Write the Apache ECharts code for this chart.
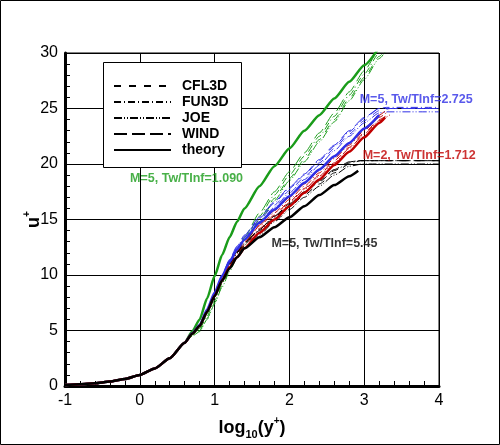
<!DOCTYPE html>
<html>
<head>
<meta charset="utf-8">
<script src="https://cdn.jsdelivr.net/npm/echarts@6/dist/echarts.min.js"></script>
<style>
html,body{margin:0;padding:0;background:#fff;}
#c{width:500px;height:445px;}
</style>
</head>
<body>
<div id="c"></div>
<script>
// ---------- data (x = log10(y+), y = u+) ----------
const xTicks = [-1, 0, 1, 2, 3, 4];
const yTicks = [0, 5, 10, 15, 20, 25, 30];
const codeNames = ['CFL3D', 'FUN3D', 'JOE', 'WIND'];

// viscous sublayer shared by all curves
const nearWall = [[-1,0.1],[-0.8,0.16],[-0.6,0.25],[-0.4,0.4],[-0.2,0.63],[0,1.0],[0.2,1.58],[0.4,2.5],[0.6,3.9]];

// M=5, Tw/TInf=1.090 (green)
const g_theory = [[0.7,4.9],[0.8,6.0],[0.9,7.9],[1.0,9.9],[1.1,11.8],[1.2,13.4],[1.3,14.8],[1.4,16.0],[1.6,18.0],[1.8,19.8],[2.0,21.4],[2.2,23.0],[2.4,24.4],[2.6,25.9],[2.8,27.4],[3.0,28.9],[3.2,30.5]];
const g_cfl3d = [[0.7,4.5],[0.8,5.0],[0.9,6.1],[1.0,7.5],[1.1,9.0],[1.2,10.4],[1.3,11.7],[1.4,12.8],[1.6,15.0],[1.8,16.9],[2.0,18.7],[2.2,20.4],[2.4,22.2],[2.6,24.0],[2.8,25.9],[3.0,27.8],[3.2,29.7],[3.4,31.6]];
const g_fun3d = [[0.7,4.6],[0.8,5.1],[0.9,6.3],[1.0,7.7],[1.1,9.2],[1.2,10.7],[1.3,12.0],[1.4,13.1],[1.6,15.3],[1.8,17.2],[2.0,19.0],[2.2,20.7],[2.4,22.5],[2.6,24.3],[2.8,26.2],[3.0,28.1],[3.2,30.0],[3.4,31.9]];
const g_joe   = [[0.7,4.5],[0.8,4.9],[0.9,6.0],[1.0,7.4],[1.1,8.9],[1.2,10.3],[1.3,11.6],[1.4,12.7],[1.6,14.8],[1.8,16.7],[2.0,18.5],[2.2,20.2],[2.4,22.0],[2.6,23.8],[2.8,25.7],[3.0,27.6],[3.2,29.5],[3.4,31.4]];
const g_wind  = [[0.7,4.6],[0.8,5.2],[0.9,6.5],[1.0,8.0],[1.1,9.6],[1.2,11.0],[1.3,12.3],[1.4,13.4],[1.6,15.6],[1.8,17.5],[2.0,19.3],[2.2,21.0],[2.4,22.8],[2.6,24.6],[2.8,26.5],[3.0,28.4],[3.2,30.3],[3.4,32.2]];

// M=5, Tw/TInf=2.725 (blue)
const b_theory = [[0.7,4.75],[0.8,5.5],[0.9,6.9],[1.0,8.4],[1.1,9.9],[1.2,11.2],[1.3,12.3],[1.4,13.2],[1.6,14.7],[1.8,15.9],[2.0,17.1],[2.2,18.3],[2.4,19.5],[2.6,20.7],[2.8,21.9],[3.0,23.2],[3.2,24.4]];
const b_cfl3d = [[0.7,4.7],[0.8,5.4],[0.9,6.7],[1.0,8.2],[1.1,9.8],[1.2,11.2],[1.3,12.4],[1.4,13.4],[1.6,15.0],[1.8,16.3],[2.0,17.6],[2.2,18.8],[2.4,20.1],[2.6,21.4],[2.8,22.7],[3.0,23.9],[3.2,24.8],[3.35,25.0],[4.0,25.0]];
const b_fun3d = [[0.7,4.7],[0.8,5.4],[0.9,6.8],[1.0,8.3],[1.1,9.9],[1.2,11.3],[1.3,12.5],[1.4,13.5],[1.6,15.1],[1.8,16.5],[2.0,17.8],[2.2,19.0],[2.4,20.3],[2.6,21.6],[2.8,22.9],[3.0,24.1],[3.2,25.0],[3.3,25.1],[4.0,25.1]];
const b_joe   = [[0.7,4.7],[0.8,5.4],[0.9,6.7],[1.0,8.1],[1.1,9.6],[1.2,11.0],[1.3,12.2],[1.4,13.2],[1.6,14.8],[1.8,16.1],[2.0,17.4],[2.2,18.6],[2.4,19.9],[2.6,21.2],[2.8,22.5],[3.0,23.7],[3.2,24.6],[3.3,24.7],[4.0,24.7]];
const b_wind  = [[0.7,4.7],[0.8,5.5],[0.9,6.9],[1.0,8.4],[1.1,10.0],[1.2,11.4],[1.3,12.6],[1.4,13.6],[1.6,15.2],[1.8,16.6],[2.0,17.9],[2.2,19.1],[2.4,20.4],[2.6,21.7],[2.8,23.0],[3.0,24.2],[3.2,25.0],[3.3,25.0],[4.0,25.0]];

// M=2, Tw/TInf=1.712 (red)
const r_theory = [[0.7,4.7],[0.8,5.4],[0.9,6.7],[1.0,8.1],[1.1,9.5],[1.2,10.7],[1.3,11.6],[1.4,12.4],[1.6,13.8],[1.8,15.0],[2.0,16.2],[2.2,17.4],[2.4,18.6],[2.6,19.9],[2.8,21.1],[3.0,22.4],[3.2,23.7],[3.28,24.2]];
const r_cfl3d = [[0.7,4.7],[0.8,5.4],[0.9,6.7],[1.0,8.2],[1.1,9.7],[1.2,11.0],[1.3,12.0],[1.4,12.8],[1.6,14.2],[1.8,15.4],[2.0,16.6],[2.2,17.8],[2.4,19.0],[2.6,20.3],[2.8,21.5],[3.0,22.8],[3.2,24.0],[3.35,24.6]];
const r_fun3d = [[0.7,4.7],[0.8,5.4],[0.9,6.7],[1.0,8.2],[1.1,9.7],[1.2,11.1],[1.3,12.1],[1.4,12.9],[1.6,14.4],[1.8,15.6],[2.0,16.8],[2.2,18.0],[2.4,19.2],[2.6,20.5],[2.8,21.7],[3.0,23.0],[3.2,24.2],[3.33,24.8]];
const r_joe   = [[0.7,4.7],[0.8,5.4],[0.9,6.7],[1.0,8.1],[1.1,9.6],[1.2,10.9],[1.3,11.9],[1.4,12.7],[1.6,14.1],[1.8,15.3],[2.0,16.5],[2.2,17.7],[2.4,18.9],[2.6,20.1],[2.8,21.4],[3.0,22.7],[3.2,23.9],[3.36,24.5]];
const r_wind  = [[0.7,4.7],[0.8,5.5],[0.9,6.8],[1.0,8.3],[1.1,9.8],[1.2,11.2],[1.3,12.2],[1.4,13.0],[1.6,14.5],[1.8,15.8],[2.0,17.0],[2.2,18.2],[2.4,19.4],[2.6,20.7],[2.8,21.9],[3.0,23.2],[3.2,24.4],[3.3,24.9]];

// M=5, Tw/TInf=5.45 (black)
const k_theory = [[0.7,4.7],[0.8,5.4],[0.9,6.7],[1.0,8.1],[1.1,9.5],[1.2,10.6],[1.3,11.6],[1.4,12.4],[1.6,13.4],[1.8,14.3],[2.0,15.2],[2.2,16.2],[2.4,17.2],[2.6,18.1],[2.8,18.9],[2.92,19.4]];
const k_cfl3d = [[0.7,4.7],[0.8,5.4],[0.9,6.7],[1.0,8.2],[1.1,9.6],[1.2,10.9],[1.3,11.8],[1.4,12.6],[1.6,13.8],[1.8,15.0],[2.0,16.1],[2.2,17.2],[2.4,18.2],[2.6,19.2],[2.8,20.0],[2.95,20.3],[4.0,20.3]];
const k_fun3d = [[0.7,4.7],[0.8,5.4],[0.9,6.7],[1.0,8.2],[1.1,9.7],[1.2,11.0],[1.3,12.0],[1.4,12.8],[1.6,14.0],[1.8,15.2],[2.0,16.3],[2.2,17.4],[2.4,18.4],[2.6,19.4],[2.8,20.1],[2.95,20.3],[4.0,20.3]];
const k_joe   = [[0.7,4.7],[0.8,5.4],[0.9,6.6],[1.0,8.1],[1.1,9.5],[1.2,10.7],[1.3,11.6],[1.4,12.4],[1.6,13.6],[1.8,14.8],[2.0,15.9],[2.2,17.0],[2.4,18.0],[2.6,19.0],[2.8,19.8],[2.98,20.0],[4.0,20.0]];
const k_wind  = [[0.7,4.7],[0.8,5.4],[0.9,6.8],[1.0,8.3],[1.1,9.8],[1.2,11.1],[1.3,12.1],[1.4,12.9],[1.6,14.1],[1.8,15.3],[2.0,16.4],[2.2,17.5],[2.4,18.5],[2.6,19.5],[2.8,20.2],[2.95,20.3],[4.0,20.3]];

// annotations (data coords of left-middle of text)
const annText = ['M=5, Tw/TInf=2.725', 'M=2, Tw/TInf=1.712', 'M=5, Tw/TInf=1.090', 'M=5, Tw/TInf=5.45'];
const annX = [2.94, 2.98, -0.13, 1.76];
const annY = [25.8, 20.8, 18.7, 12.8];

// ---------- styling ----------
const FONT = "'Liberation Sans', Arial, Helvetica, sans-serif";
const cases = [
  { key: 'green', color: '#1a9c1a', theory: g_theory, codes: [g_cfl3d, g_fun3d, g_joe, g_wind], legend: false },
  { key: 'blue',  color: '#2f2fe6', theory: b_theory, codes: [b_cfl3d, b_fun3d, b_joe, b_wind], legend: false },
  { key: 'red',   color: '#c00000', theory: r_theory, codes: [r_cfl3d, r_fun3d, r_joe, r_wind], legend: false },
  { key: 'black', color: '#000000', theory: k_theory, codes: [k_cfl3d, k_fun3d, k_joe, k_wind], legend: true }
];
const annColors = ['#2f2fe6', '#c00000', '#1a9c1a', '#000000'];
const dashes = { CFL3D: [7, 8], FUN3D: [7, 3, 1, 3], JOE: [8, 2, 1, 2, 1, 2], WIND: [13, 5] };

const series = [];
cases.forEach(c => {
  c.codes.forEach((arr, i) => {
    const nm = codeNames[i];
    series.push({
      name: c.legend ? nm : nm + ' ' + c.key,
      type: 'line',
      data: nearWall.concat(arr),
      symbol: 'none',
      smooth: 0.2,
      smoothMonotone: 'x',
      lineStyle: { color: c.color, width: 1, type: dashes[nm] },
      itemStyle: { color: c.color },
      z: 2
    });
  });
  series.push({
    name: c.legend ? 'theory' : 'theory ' + c.key,
    type: 'line',
    data: nearWall.concat(c.theory),
    symbol: 'none',
    smooth: 0.2,
    smoothMonotone: 'x',
    lineStyle: { color: c.color, width: 2.5, type: 'solid' },
    itemStyle: { color: c.color },
    z: 3
  });
});

series.push({
  type: 'scatter',
  symbolSize: 0,
  silent: true,
  z: 6,
  data: annText.map((t, i) => ({
    value: [annX[i], annY[i]],
    label: {
      show: true,
      formatter: t,
      position: [0, 0],
      align: 'left',
      verticalAlign: 'middle',
      color: annColors[i],
      fontFamily: FONT,
      fontWeight: 'bold',
      fontSize: 12.5
    }
  }))
});

const chart = echarts.init(document.getElementById('c'), null, { renderer: 'canvas' });
chart.setOption({
  animation: false,
  backgroundColor: '#fff',
  grid: { left: 65, right: 61, top: 53, bottom: 50, show: true, borderColor: '#000', borderWidth: 1, backgroundColor: 'transparent' },
  xAxis: {
    type: 'value', min: xTicks[0], max: xTicks[xTicks.length - 1], interval: 1,
    axisLine: { show: true, onZero: false, lineStyle: { color: '#000', width: 3 } },
    axisTick: { show: true, inside: true, length: 8, lineStyle: { color: '#000', width: 1 } },
    minorTick: { show: true, splitNumber: 5, length: 5, lineStyle: { color: '#000', width: 1 } },
    splitLine: { show: true, lineStyle: { color: '#000', width: 1 } },
    axisLabel: { color: '#000', fontSize: 16, fontFamily: FONT, margin: 7 },
    name: '{b|log}{s|10}{b|(y}{p|+}{b|)}',
    nameLocation: 'middle',
    nameGap: 30,
    nameMoveOverlap: false,
    nameTextStyle: {
      rich: {
        b: { fontSize: 18, fontWeight: 'bold', fontFamily: FONT, color: '#000', lineHeight: 24 },
        s: { fontSize: 11, fontWeight: 'bold', fontFamily: FONT, color: '#000', verticalAlign: 'bottom', lineHeight: 12 },
        p: { fontSize: 10, fontWeight: 'bold', fontFamily: FONT, color: '#000', verticalAlign: 'top', lineHeight: 14 }
      }
    }
  },
  yAxis: {
    type: 'value', min: yTicks[0], max: yTicks[yTicks.length - 1], interval: 5,
    axisLine: { show: true, onZero: false, lineStyle: { color: '#000', width: 3 } },
    axisTick: { show: true, inside: true, length: 8, lineStyle: { color: '#000', width: 1 } },
    minorTick: { show: true, splitNumber: 5, length: 5, lineStyle: { color: '#000', width: 1 } },
    splitLine: { show: true, lineStyle: { color: '#000', width: 1 } },
    axisLabel: { color: '#000', fontSize: 16, fontFamily: FONT, margin: 7 },
    name: '{b|u}{p|+}',
    nameLocation: 'middle',
    nameRotate: 90,
    nameGap: 19,
    nameMoveOverlap: false,
    nameTextStyle: {
      rich: {
        b: { fontSize: 18, fontWeight: 'bold', fontFamily: FONT, color: '#000', lineHeight: 24 },
        p: { fontSize: 10, fontWeight: 'bold', fontFamily: FONT, color: '#000', verticalAlign: 'top', lineHeight: 14 }
      }
    }
  },
  legend: {
    data: ['CFL3D', 'FUN3D', 'JOE', 'WIND', 'theory'],
    orient: 'vertical',
    left: 113, top: 79,
    padding: 0,
    itemWidth: 57, itemHeight: 14, itemGap: 2,
    selectedMode: false,
    z: 5,
    itemStyle: { opacity: 0, borderWidth: 0 },
    textStyle: { color: '#000', fontFamily: FONT, fontWeight: 'bold', fontSize: 14, lineHeight: 14, padding: [0, 0, 0, 6] }
  },
  graphic: [
    { type: 'rect', z: 4, shape: { x: 103.5, y: 62.5, width: 138, height: 105 }, style: { fill: '#fff', stroke: '#000', lineWidth: 1 } },
    { type: 'rect', z: 10, shape: { x: 0.5, y: 0.5, width: 499, height: 444 }, style: { fill: 'none', stroke: '#000', lineWidth: 1 } }
  ],
  series: series
});
</script>
</body>
</html>
